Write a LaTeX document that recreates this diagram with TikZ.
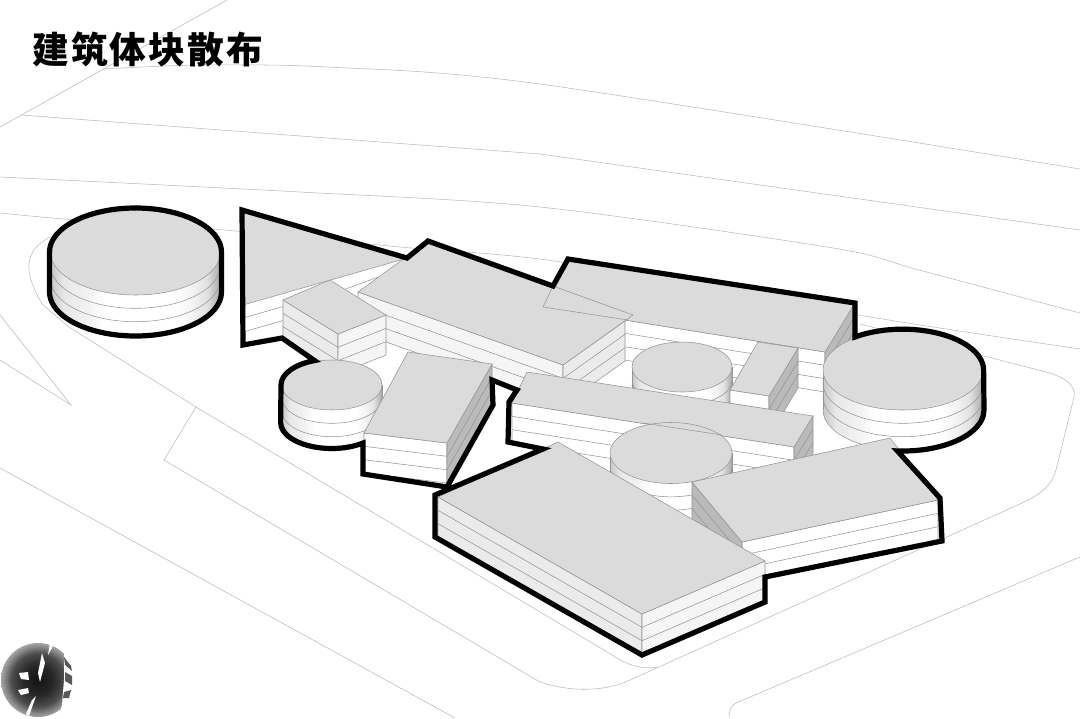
\documentclass[tikz,border=0pt]{standalone}
\usepackage{fontspec}
\newfontfamily\cjk[LetterSpace=6]{Noto Sans CJK SC}
\usetikzlibrary{arrows.meta, positioning, calc}

\pgfdeclarehorizontalshading{drumshade}{100bp}{
    color(0bp)=(black!22); color(25bp)=(black!22); color(29bp)=(black!9);
    color(36bp)=(black!5); color(41bp)=(white); color(62bp)=(white);
    color(67bp)=(black!5); color(71bp)=(black!12); color(75bp)=(black!34);
    color(100bp)=(black!34)}
\pgfdeclareradialshading{globeshade}{\pgfpoint{0bp}{0bp}}{
    color(0bp)=(black!92); color(10bp)=(black!85); color(18bp)=(black!70);
    color(24bp)=(black!40); color(28bp)=(black!25); color(50bp)=(black!25)}

\tikzset{
    hairline/.style={draw=black!42, line width=0.4pt},
    siteline/.style={draw=black!28, line width=0.4pt},
    massline/.style={draw=black, line width=3.9pt, line join=miter, miter limit=6},
    roof/.style={hairline, fill=black!14},
    wallwhite/.style={hairline, fill=white},
    wallpale/.style={hairline, fill=black!4},
    wallgray/.style={hairline, fill=black!8},
    walldark/.style={hairline, fill=black!27},
}

% wall of three floors below an upper edge: style, x1, y1, x2, y2
\newcommand{\facade}[5]{
    \draw[#1] (#2,#3) -- (#4,#5) -- (#4,#5+40) -- (#2,#3+40) -- cycle;
    \foreach \f in {13.3,26.7}{
        \draw[hairline] (#2,#3+\f) -- (#4,#5+\f);
    }
}
% round drum of three floors: cx, cy, rx, ry
\newcommand{\drum}[4]{
    \shade[shading=drumshade] (#1-#3,#2) -- (#1-#3,#2+40)
        arc[start angle=180, end angle=0, x radius=#3, y radius=#4] -- (#1+#3,#2) -- cycle;
    \foreach \f in {13.3,26.7,40}{
        \draw[hairline] (#1-#3,#2+\f) arc[start angle=180, end angle=0, x radius=#3, y radius=#4];
    }
    \draw[hairline] (#1-#3,#2) -- (#1-#3,#2+40);
    \draw[hairline] (#1+#3,#2) -- (#1+#3,#2+40);
    \draw[roof] (#1,#2) ellipse[x radius=#3, y radius=#4];
}

\begin{document}
\begin{tikzpicture}[x=0.75pt, y=-0.75pt, line cap=butt]
    \useasboundingbox (0,0) rectangle (1080,718);

    % Site lines
    \draw[siteline] (0,127) -- (227,0);
    \draw[siteline] plot[smooth] coordinates {(103,69) (200,65) (327,67) (540,84) (1080,169)};
    \draw[siteline] (21,115) -- (540,154) -- (1080,230);
    \draw[siteline] plot[smooth] coordinates {(0,177) (300,192) (540,207) (833,248) (919,270) (1080,313)};
    \draw[siteline] plot[smooth] coordinates {(0,213) (76,220) (224,230) (400,247) (561,262) (858,315) (1080,349)};

    % Zigzag at the left edge
    \draw[siteline] (0,315) -- (71,405) -- (0,360);

    % Road edges
    \draw[siteline] (50,237) .. controls (25,250) and (22,270) .. (42,304) -- (69,327) -- (196,407) -- (609,653)
        .. controls (625,664) and (640,670) .. (657,667);
    \draw[siteline] (196,407) -- (164,460) -- (540,682)
        .. controls (570,692) and (605,692) .. (630,680) -- (1022,503)
        .. controls (1040,495) and (1052,485) .. (1056,470) -- (1074,397)
        .. controls (1076,385) and (1065,378) .. (1050,373) -- (860,324);
    \draw[siteline] (0,468) -- (455,718);
    \draw[siteline] (729,718) .. controls (729,710) and (731,706) .. (736,703) -- (1080,557);

    % Ground of the whole group
    \fill[white] (242,210) -- (407,258) -- (428,241) -- (553,286) -- (568,259) -- (855,303) -- (855,337)
        -- (903,330) -- (985,370) -- (985,410) -- (898,450) -- (940,498) -- (942,541) -- (765,577)
        -- (765,602) -- (642,655) -- (435,537) -- (435,495) -- (543,449) -- (508,442) -- (509,402) -- (517,390)
        -- (492,380) -- (493,405) -- (447,487) -- (363,474) -- (363,443) -- (282,427) -- (282,380)
        -- (315,360) -- (282,338) -- (243,345) -- cycle;

    % Triangle
    \draw[roof] (243,210) -- (404,259) -- (243,305) -- cycle;
    \draw[hairline] (343,290) -- (381,276);
    \draw[hairline] (243,318) -- (285,306);
    \draw[hairline] (243,332) -- (285,320);

    % Long block at the back
    \facade{wallwhite}{543}{307}{825}{352}
    \facade{walldark}{855}{303}{825}{352}
    \draw[roof] (543,307) -- (568,259) -- (855,303) -- (825,352) -- cycle;

    % Slanted slab
    \facade{wallpale}{358}{292}{563}{365}
    \facade{wallgray}{563}{365}{625}{321}
    \draw[roof] (358,292) -- (428,241) -- (553,286) -- (633,315) -- (563,365) -- cycle;
    \draw[hairline] (543,307) -- (553,286);
    \draw[hairline] (543,307) -- (628,320);

    % Small box
    \facade{wallgray}{283}{300}{338}{334}
    \facade{wallpale}{338}{334}{386}{315}
    \draw[roof] (283,300) -- (330,280) -- (386,315) -- (338,334) -- cycle;

    % Middle drum, narrow box
    \drum{682}{367}{50}{25}
    \facade{wallwhite}{730}{390}{769}{396}
    \facade{walldark}{798}{348}{769}{396}
    \draw[roof] (758,342) -- (798,348) -- (769,396) -- (730,390) -- cycle;

    % Long block in the middle
    \facade{wallwhite}{512}{403}{794}{447}
    \facade{walldark}{813}{416}{794}{447}
    \draw[roof] (527,372) -- (813,416) -- (794,447) -- (512,403) -- cycle;

    % Right drum
    \drum{903}{370}{80}{40}

    % Front drum, edge of the block behind it seen through
    \drum{671}{453}{61}{30.5}
    \draw[hairline] (643,423) -- (722,435);

    % Small drum, box next to it
    \drum{332}{385}{50}{25}
    \facade{wallwhite}{364}{433}{447}{443}
    \facade{walldark}{492}{364}{447}{443}
    \draw[roof] (408,352) -- (492,364) -- (447,443) -- (364,433) -- cycle;

    % Right front block
    \facade{wallwhite}{742}{542}{938}{500}
    \facade{walldark}{692}{482}{742}{542}
    \draw[roof] (692,482) -- (890,438) -- (938,500) -- (742,542) -- cycle;

    % Big front block
    \facade{wallgray}{438}{497}{642}{614}
    \facade{wallpale}{642}{614}{765}{561}
    \draw[roof] (558,442) -- (765,561) -- (642,614) -- (438,497) -- cycle;

    % Left drum
    \drum{135.5}{252}{85}{43}

    % Thick outlines
    \draw[massline] (49.5,252) arc[start angle=180, end angle=360, x radius=86, y radius=44]
        -- (221.5,292) arc[start angle=0, end angle=180, x radius=86, y radius=44] -- cycle;
    \draw[massline] (242,210) -- (407,258) -- (428,241) -- (553,286) -- (568,259) -- (855,303) -- (855,337)
        arc[start angle=234, end angle=360, x radius=81, y radius=41]
        -- (984,410) arc[start angle=0, end angle=94, x radius=81, y radius=41]
        -- (940,498) -- (942,541) -- (765,577) -- (765,602) -- (642,655) -- (435,537) -- (435,495)
        -- (543,449) -- (508,442) -- (509,402) -- (517,390) -- (492,380) -- (493,405) -- (447,487)
        -- (363,474) -- (363,443) arc[start angle=52, end angle=180, x radius=51, y radius=26]
        -- (281,385) arc[start angle=180, end angle=250, x radius=51, y radius=26]
        -- (282,338) -- (243,345) -- cycle;

    % Title
    \node[anchor=west, inner sep=0pt] (title) at (32,49) {\cjk\bfseries\fontsize{27.5pt}{27.5pt}\selectfont 建筑体块散布};

    % Globe at the corner
    \shade[shading=globeshade] (38,680) circle (37);
    \fill[white] (64,641) -- (80,640) -- (80,722) -- (57,722) -- (62,705) -- (64,680) -- cycle;
    \fill[white] (52,648) -- (54,640) -- (50,642) -- (48,655) -- cycle;
    \fill[black!65] (64,657) -- (71,666) -- (72,671) -- (65,665) -- cycle;
    \fill[black!65] (65,672) -- (72,676) -- (72,685) -- (65,681) -- cycle;
    \fill[black!65] (64,692) -- (71,690) -- (69,698) -- (63,698) -- cycle;
    \fill[white] (42,653) -- (45,663) -- (40,682) -- (38,673) -- cycle;
    \fill[white] (19,673) -- (28,672) -- (29,680) -- (21,679) -- cycle;
    \fill[white] (18,690) -- (28,688) -- (29,693) -- (21,695) -- cycle;
    \fill[white] (32,700) -- (36,696) -- (29,716) -- (26,714) -- cycle;
\end{tikzpicture}
\end{document}
